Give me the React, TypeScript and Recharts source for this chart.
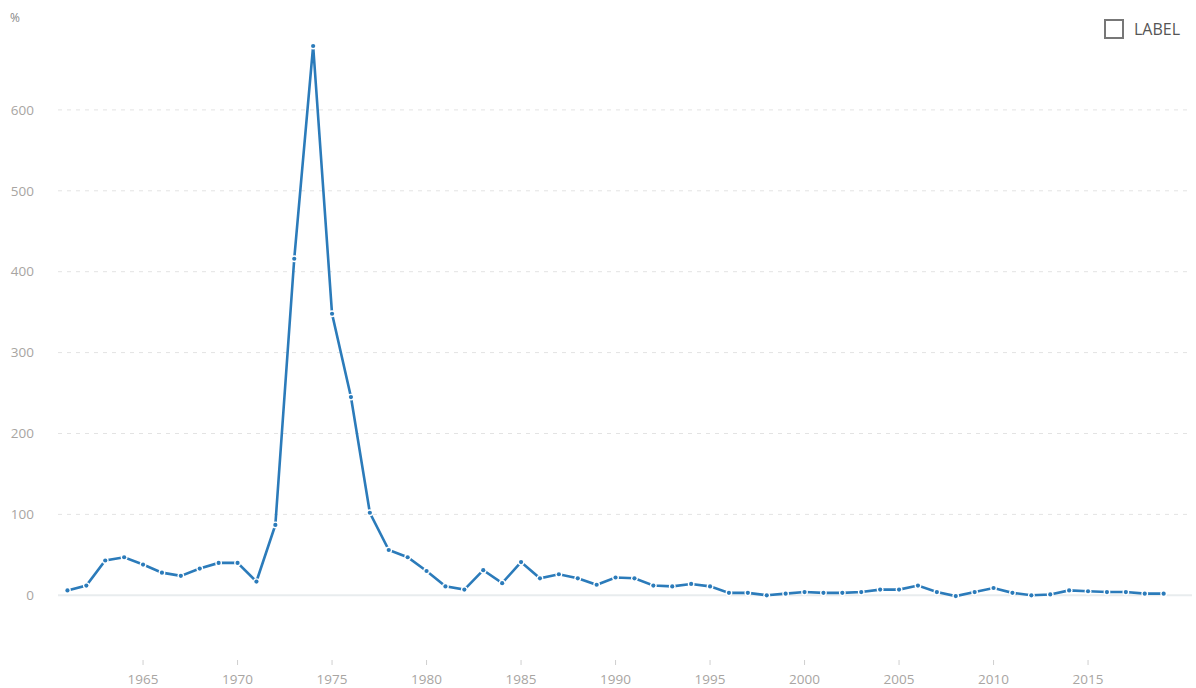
import React from "react";
import {
  LineChart,
  Line,
  XAxis,
  YAxis,
  CartesianGrid,
  ReferenceLine,
} from "recharts";

const YEARS = [
  1961, 1962, 1963, 1964, 1965, 1966, 1967, 1968, 1969, 1970,
  1971, 1972, 1973, 1974, 1975, 1976, 1977, 1978, 1979, 1980,
  1981, 1982, 1983, 1984, 1985, 1986, 1987, 1988, 1989, 1990,
  1991, 1992, 1993, 1994, 1995, 1996, 1997, 1998, 1999, 2000,
  2001, 2002, 2003, 2004, 2005, 2006, 2007, 2008, 2009, 2010,
  2011, 2012, 2013, 2014, 2015, 2016, 2017, 2018, 2019,
];

const VALUES = [
  6, 12, 43, 47, 38, 28, 24, 33, 40, 40,
  17, 87, 416, 679, 348, 245, 102, 56, 47, 30,
  11, 7, 31, 15, 41, 21, 26, 21, 13, 22,
  21, 12, 11, 14, 11, 3, 3, 0, 2, 4,
  3, 3, 4, 7, 7, 12, 4, -1, 4, 9,
  3, 0, 1, 6, 5, 4, 4, 2, 2,
];

const X_TICKS = [1965, 1970, 1975, 1980, 1985, 1990, 1995, 2000, 2005, 2010, 2015];
const Y_TICKS = [0, 100, 200, 300, 400, 500, 600];
const GRID_VALUES = [100, 200, 300, 400, 500, 600];

const SERIES_NAME = "LABEL";
const UNIT = "%";

const LINE_COLOR = "#2b7bba";
const TEXT_COLOR = "#a8a5a2";
const FONT = "'Open Sans', 'Noto Sans', sans-serif";

const data = YEARS.map((year, i) => ({ year, value: VALUES[i] }));

// dot sitting in a small white gap of the line
const GapDot = (props: any) => {
  const { cx, cy, index } = props;
  if (cx == null || cy == null) return null;
  return (
    <g key={`dot-${index}`}>
      <circle cx={cx} cy={cy} r={3.4} fill="#fff" />
      <circle cx={cx} cy={cy} r={2.1} fill={LINE_COLOR} />
    </g>
  );
};

export default function App() {
  return (
    <div
      style={{
        position: "absolute",
        left: 0,
        top: 0,
        width: 1196,
        height: 688,
        background: "#fff",
        fontFamily: FONT,
      }}
    >
      <div
        style={{
          position: "absolute",
          left: 10,
          top: 9,
          fontSize: 12,
          color: "#888",
        }}
      >
        {UNIT}
      </div>
      <div
        style={{
          position: "absolute",
          left: 1104,
          top: 18,
          display: "flex",
          alignItems: "center",
          gap: 10,
          fontSize: 16,
          color: "#555",
        }}
      >
        <span
          style={{
            width: 16,
            height: 16,
            border: "2px solid #777",
            display: "inline-block",
          }}
        />
        <span>{SERIES_NAME}</span>
      </div>
      <LineChart
        width={1196}
        height={688}
        data={data}
        margin={{ top: 29, right: 4, bottom: 0, left: 0 }}
      >
        <CartesianGrid
          vertical={false}
          horizontalValues={GRID_VALUES}
          stroke="#e3e3e3"
          strokeDasharray="4 5"
        />
        <ReferenceLine y={0} stroke="#e8ecee" strokeWidth={2} />
        <XAxis
          dataKey="year"
          type="number"
          domain={[1960.5, 2020.5]}
          ticks={X_TICKS}
          allowDataOverflow
          axisLine={false}
          tickLine={{ stroke: "#cfcfcf" }}
          tickSize={5}
          tickMargin={9}
          height={28}
          tick={{ fontSize: 13.5, fill: TEXT_COLOR, fontFamily: FONT }}
        />
        <YAxis
          type="number"
          domain={[-80, 700]}
          ticks={Y_TICKS}
          allowDataOverflow
          axisLine={false}
          tickLine={false}
          tickMargin={18}
          width={58}
          tick={{ fontSize: 13.5, fill: TEXT_COLOR, fontFamily: FONT }}
        />
        <Line
          type="linear"
          dataKey="value"
          name={SERIES_NAME}
          stroke={LINE_COLOR}
          strokeWidth={2.6}
          dot={<GapDot />}
          activeDot={false}
          isAnimationActive={false}
        />
      </LineChart>
    </div>
  );
}
